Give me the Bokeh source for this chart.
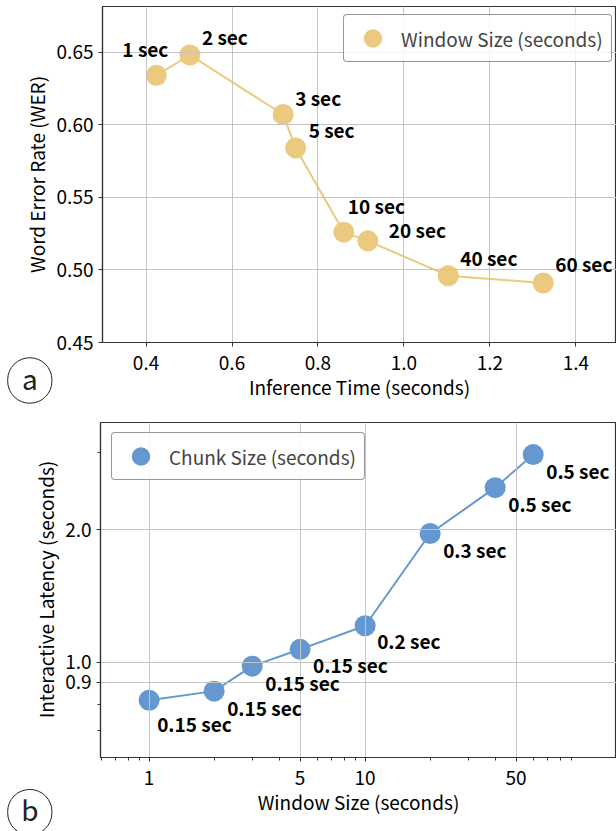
import math
from bokeh.plotting import figure
from bokeh.layouts import column, row
from bokeh.models import (ColumnDataSource, Legend, LegendItem, FixedTicker,
                          Label, PrintfTickFormatter)
from bokeh.core.properties import value
from bokeh.embed import file_html
from bokeh.resources import INLINE

# ---------------- data: panel a ----------------
inference_time = [0.424, 0.502, 0.719, 0.748, 0.860, 0.916, 1.103, 1.324]
wer = [0.634, 0.648, 0.607, 0.584, 0.526, 0.520, 0.496, 0.491]
window_labels = ["1 sec", "2 sec", "3 sec", "5 sec", "10 sec", "20 sec", "40 sec", "60 sec"]
xticks_a = [0.4, 0.6, 0.8, 1.0, 1.2, 1.4]
yticks_a = [0.45, 0.50, 0.55, 0.60, 0.65]

# ---------------- data: panel b ----------------
window_size = [1, 2, 3, 5, 10, 20, 40, 60]
latency = [0.82, 0.86, 0.98, 1.07, 1.21, 1.96, 2.49, 2.96]
chunk_labels = ["0.15 sec", "0.15 sec", "0.15 sec", "0.15 sec", "0.2 sec", "0.3 sec", "0.5 sec", "0.5 sec"]
xticks_b = [1, 5, 10, 50]
xminor_b = [0.6, 0.7, 0.8, 0.9, 2, 3, 4, 6, 7, 8, 9, 20, 30, 40, 60, 70, 80, 90]
yticks_b = [0.9, 1.0, 2.0]
yminor_b = [0.7, 0.8, 3.0]

# label offsets (screen px)
dx_a = [-34, 12, 12, 13, 4, 21, 12, 12]
dy_a = [-27, -18, -17, -18, -27, -11, -18, -19]
dx_b = [8, 13, 13, 13, 12, 13, 13, 13]
dy_b = [23, 16, 16, 15, 15, 16, 16, 16]

FONT = "Noto Sans CJK JP"
YELLOW = "#ebc97f"
BLUE = "#6598d0"
GRID = "#c4c4c4"
SPINE = "#333333"
TAG = "#222222"
TICK_FS = "19px"
LABEL_FS = "19px"
ANN_FS = "19px"


def no_align(p):
    try:
        p.frame_align = False
        return True
    except Exception:
        return False


def style(p):
    p.outline_line_color = SPINE
    p.outline_line_width = 1.2
    for ax in (p.xaxis, p.yaxis):
        ax.axis_line_color = SPINE
        ax.axis_line_width = 1.2
        ax.major_tick_line_color = SPINE
        ax.minor_tick_line_color = SPINE
        ax.major_tick_out = 4
        ax.major_tick_in = 0
        ax.minor_tick_out = 3
        ax.minor_tick_in = 0
        ax.major_label_text_font = FONT
        ax.major_label_text_font_size = TICK_FS
        ax.major_label_text_color = "black"
        ax.axis_label_text_font = FONT
        ax.axis_label_text_font_size = LABEL_FS
        ax.axis_label_text_font_style = "normal"
        ax.axis_label_text_color = "black"
    p.xaxis.major_label_standoff = 9
    p.xaxis.axis_label_standoff = 0
    p.yaxis.major_label_standoff = 5
    for g in (p.xgrid, p.ygrid):
        g.grid_line_color = GRID
        g.grid_line_width = 1
        g.level = "glyph"
    p.background_fill_color = "white"
    p.border_fill_color = "white"
    no_align(p)


def make_legend(r, text, loc, lw):
    lg = Legend(items=[LegendItem(label=text, renderers=[r])], location=loc,
                glyph_width=57, glyph_height=46, padding=0, spacing=0, margin=0,
                label_standoff=0, label_width=lw, label_height=46,
                label_text_font=FONT, label_text_font_size=LABEL_FS,
                border_line_color=SPINE, border_line_width=1,
                background_fill_color="white", background_fill_alpha=0.85)
    try:
        lg.border_radius = 4
    except Exception:
        pass
    return lg


def strip(width, height, top, bottom, ylabel, ylabel_x, ylabel_cy, letter, tag_x, tag_cy):
    """Left margin strip holding the rotated y-axis title and the panel tag.
    ylabel_cy / tag_cy: centre positions measured from the top of the strip."""
    s = figure(width=width, height=height, x_range=(0, width), y_range=(0, height),
               output_backend="svg", toolbar_location=None,
               x_axis_location=None, y_axis_location=None,
               min_border=0, min_border_left=0, min_border_right=0)
    s.outline_line_color = None
    s.background_fill_color = "white"
    s.border_fill_color = "white"
    s.grid.visible = False
    free = no_align(s)
    if free:
        s.min_border_top = 0
        s.min_border_bottom = 0
        fb = height                 # frame bottom (from strip top)
    else:
        s.min_border_top = top
        s.min_border_bottom = bottom
        fb = height - bottom
    s.add_layout(Label(x=ylabel_x, y=fb - ylabel_cy, x_units="screen", y_units="screen",
                       text=ylabel, angle=math.pi / 2, text_font=FONT,
                       text_font_size=LABEL_FS, text_align="center",
                       text_baseline="middle", text_color="black"))
    if free:
        ring = Label(x=tag_x, y=fb - tag_cy, x_units="screen", y_units="screen", text=" ",
                     text_font=FONT, text_font_size="1px", text_align="center",
                     text_baseline="middle", text_color=TAG,
                     border_line_color=TAG, border_line_width=1)
        ring.padding = 22
        ring.border_radius = 22
        s.add_layout(ring)
        s.add_layout(Label(x=tag_x, y=fb - tag_cy + 3, x_units="screen", y_units="screen",
                           text=letter, text_font=FONT, text_font_size="28px",
                           text_align="center", text_baseline="middle", text_color=TAG))
    else:
        tag = Label(x=tag_x, y=(fb + 45) - tag_cy, x_units="screen", y_units="screen",
                    text=letter, text_font=FONT, text_font_size="28px",
                    text_align="center", text_baseline="middle", text_color=TAG,
                    border_line_color=TAG, border_line_width=1)
        try:
            tag.padding = dict(left=13, right=14, top=0, bottom=12)
        except Exception:
            tag.padding = (13, 6)
        tag.border_radius = 22
        s.add_layout(tag, "below")
    return s


# ---------------- panel a ----------------
W1 = 53
p1 = figure(width=616 - W1, height=410, x_range=(0.2987, 1.4945), y_range=(0.45, 0.6814),
            output_backend="svg", toolbar_location=None,
            min_border_left=100 - W1, min_border_right=0, min_border_top=6, min_border_bottom=68,
            x_axis_label="Inference Time (seconds)")
style(p1)
p1.xaxis.ticker = FixedTicker(ticks=xticks_a)
p1.yaxis.ticker = FixedTicker(ticks=yticks_a)
p1.xaxis.formatter = PrintfTickFormatter(format="%.1f")
p1.yaxis.formatter = PrintfTickFormatter(format="%.2f")

src_a = ColumnDataSource(dict(x=inference_time, y=wer, label=window_labels, dx=dx_a, dy=dy_a))
p1.line("x", "y", source=src_a, line_color=YELLOW, line_width=2, level="underlay")
ra = p1.scatter("x", "y", source=src_a, size=21, fill_color=YELLOW, line_color=None,
                level="underlay")
p1.text("x", "y", text="label", x_offset="dx", y_offset="dy", source=src_a,
        text_font=value(FONT), text_font_style="bold", text_font_size=ANN_FS,
        text_align="left", text_baseline="middle", text_color="black", level="annotation")
p1.add_layout(make_legend(ra, "Window Size (seconds)", (241, 280), 210))
s1 = strip(W1, 410, 6, 68, "Word Error Rate (WER)", 35.5, 174, "a", 29.3, 380)

# ---------------- panel b ----------------
W2 = 60
p2 = figure(width=616 - W2, height=421, x_axis_type="log", y_axis_type="log",
            x_range=(0.5955, 145.8), y_range=(0.608, 3.5),
            output_backend="svg", toolbar_location=None,
            min_border_left=100 - W2, min_border_right=0, min_border_top=12, min_border_bottom=74,
            x_axis_label="Window Size (seconds)")
style(p2)
p2.xaxis.ticker = FixedTicker(ticks=xticks_b, minor_ticks=xminor_b)
p2.yaxis.ticker = FixedTicker(ticks=yticks_b, minor_ticks=yminor_b)
p2.xaxis.formatter = PrintfTickFormatter(format="%d")
p2.yaxis.formatter = PrintfTickFormatter(format="%.1f")

src_b = ColumnDataSource(dict(x=window_size, y=latency, label=chunk_labels, dx=dx_b, dy=dy_b))
p2.line("x", "y", source=src_b, line_color=BLUE, line_width=2, level="underlay")
rb = p2.scatter("x", "y", source=src_b, size=21, fill_color=BLUE, line_color=None,
                level="underlay")
p2.text("x", "y", text="label", x_offset="dx", y_offset="dy", source=src_b,
        text_font=value(FONT), text_font_style="bold", text_font_size=ANN_FS,
        text_align="left", text_baseline="middle", text_color="black", level="annotation")
p2.add_layout(make_legend(rb, "Chunk Size (seconds)", (11, 277), 195))
s2 = strip(W2, 421, 12, 74, "Interactive Latency (seconds)", 45, 179, "b", 29.3, 401.7)

layout = column(row(s1, p1, spacing=0), row(s2, p2, spacing=0), spacing=0)
open("out.html", "w").write(file_html(layout, INLINE))
